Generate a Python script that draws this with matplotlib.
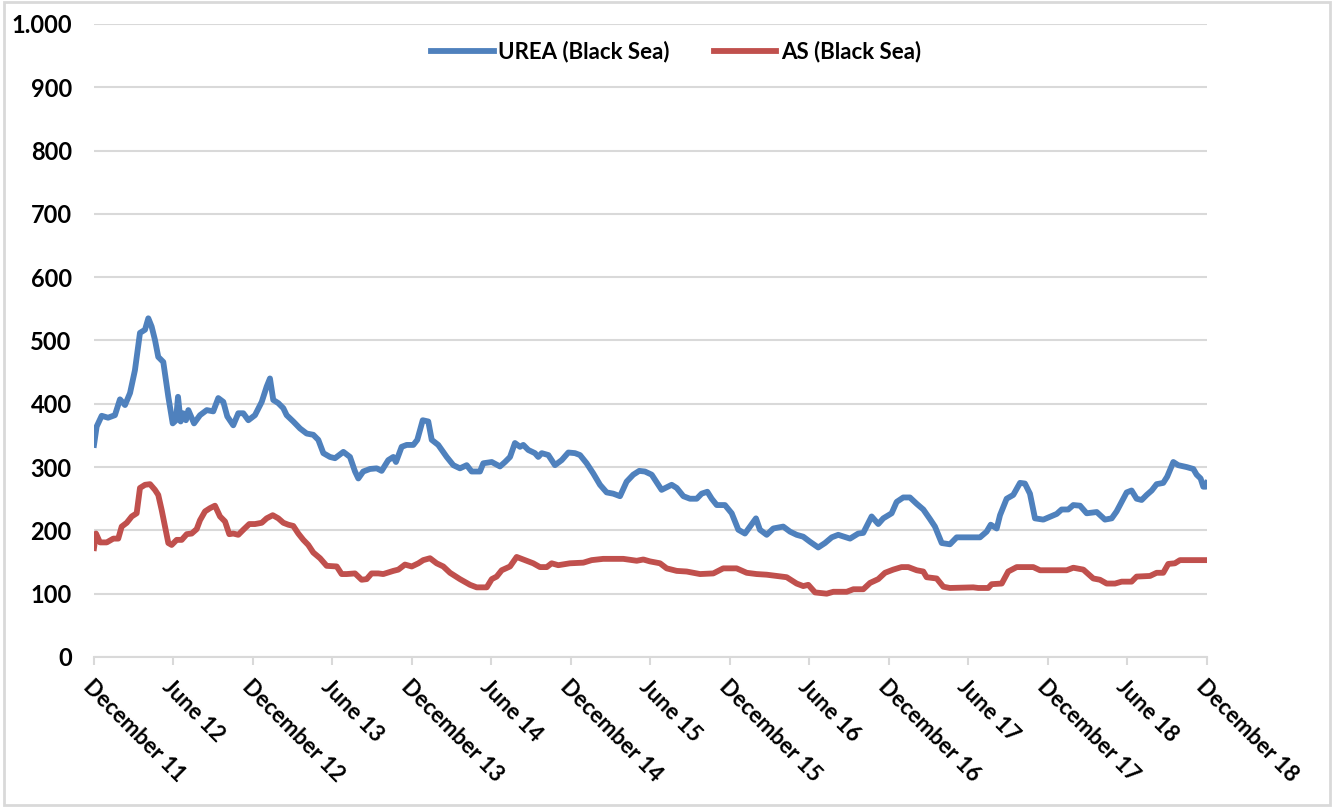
import matplotlib
matplotlib.use('Agg')
import matplotlib.pyplot as plt
from matplotlib.ticker import FuncFormatter, MultipleLocator
from matplotlib.patches import Rectangle

# months since December 2011
urea_x = [0, 0.2, 0.58, 1.06, 1.58, 1.96, 2.34, 2.72, 3.09, 3.47, 3.85, 4.10, 4.35, 4.60, 4.85,
          5.23, 5.61, 5.94, 6.19, 6.34, 6.54, 6.74, 6.94, 7.12, 7.55, 8.0, 8.51, 9.0, 9.38, 9.76,
          10.06, 10.51, 10.89, 11.27, 11.65, 12.15, 12.66, 13.03, 13.28, 13.53, 13.91, 14.29,
          14.54, 15.04, 15.55, 16.05, 16.55, 16.93, 17.31, 17.81, 18.19, 18.82, 19.32, 19.70,
          19.95, 20.32, 20.83, 21.34, 21.71, 22.21, 22.59, 22.79, 23.22, 23.60, 24.10, 24.40,
          24.81, 25.23, 25.49, 25.98, 26.62, 27.12, 27.62, 28.13, 28.50, 29.13, 29.38, 30.02,
          30.64, 31.02, 31.40, 31.77, 32.15, 32.40, 32.78, 33.28, 33.53, 33.79, 34.29, 34.79,
          35.30, 35.80, 36.30, 36.68, 37.18, 37.68, 38.19, 38.69, 39.19, 39.70, 40.20, 40.70,
          41.15, 41.58, 42.09, 42.34, 42.84, 43.60, 43.98, 44.48, 44.98, 45.49, 45.86, 46.29,
          46.62, 47.00, 47.62, 48.13, 48.63, 49.13, 49.51, 49.96, 50.26, 50.77, 51.27, 52.02,
          52.53, 53.03, 53.53, 54.04, 54.66, 55.17, 55.68, 56.17, 57.06, 57.68, 58.06, 58.69,
          59.19, 59.57, 60.20, 60.58, 61.08, 61.58, 62.09, 62.59, 63.09, 63.47, 63.98, 64.60,
          65.11, 66.87, 67.37, 67.68, 68.13, 68.38, 68.88, 69.38, 69.89, 70.26, 70.64, 71.02,
          71.65, 72.66, 73.03, 73.53, 73.91, 74.42, 74.92, 75.68, 76.30, 76.81, 77.18, 77.94,
          78.31, 78.69, 79.07, 79.45, 79.83, 80.20, 80.70, 81.0, 81.46, 81.83, 82.47, 82.97,
          83.22, 83.52, 83.72, 83.92, 84.0]
urea = [335, 364, 381, 378, 382, 407, 398, 417, 453, 512, 517, 535, 522, 501, 474,
        466, 411, 369, 374, 411, 372, 385, 374, 390, 369, 382, 390, 388, 409, 403,
        380, 366, 385, 385, 374, 382, 403, 427, 440, 406, 401, 393,
        382, 372, 361, 353, 351, 343, 322, 316, 314, 324, 316, 293,
        282, 293, 297, 298, 294, 311, 316, 308, 332, 335, 335, 343,
        374, 372, 343, 335, 316, 303, 298, 303, 293, 293, 306, 308,
        301, 308, 316, 338, 332, 335, 327, 322, 316, 322, 319, 303,
        311, 323, 322, 319, 306, 290, 272, 260, 258, 254, 277, 288,
        294, 293, 288, 280, 264, 272, 267, 254, 250, 250, 258, 261,
        250, 240, 240, 227, 201, 195, 206, 219, 201, 193, 203, 206,
        198, 193, 190, 182, 173, 180, 189, 193, 187, 195, 196, 222,
        210, 219, 227, 245, 252, 252, 242, 233, 218, 206, 180, 178,
        189, 189, 198, 209, 203, 224, 250, 256, 275, 274, 258, 219,
        217, 226, 233, 233, 240, 239, 227, 229, 217, 219, 230, 260,
        263, 250, 248, 256, 263, 273, 275, 285, 308, 303, 300, 297,
        288, 282, 269, 269, 275]

as_x = [0, 0.15, 0.45, 0.96, 1.46, 1.83, 2.09, 2.47, 2.85, 3.22, 3.47, 3.85, 4.23, 4.60, 4.85,
        5.11, 5.36, 5.61, 5.86, 6.24, 6.62, 7.0, 7.37, 7.75, 8.0, 8.38, 8.75, 9.13, 9.51, 9.89,
        10.21, 10.51, 10.89, 11.27, 11.72, 12.15, 12.66, 13.03, 13.49, 13.91, 14.29, 14.66,
        15.04, 15.42, 15.80, 16.17, 16.55, 17.06, 17.56, 18.32, 18.69, 19.07, 19.70, 20.20,
        20.58, 20.95, 21.46, 21.83, 22.59, 22.97, 23.47, 23.98, 24.48, 24.85, 25.36, 25.86,
        26.36, 26.87, 27.62, 28.38, 28.88, 29.64, 30.02, 30.39, 30.77, 31.40, 31.90, 32.53,
        33.15, 33.66, 34.17, 34.54, 35.04, 35.92, 36.93, 37.56, 38.43, 39.95, 40.96, 41.46,
        41.96, 42.72, 43.22, 43.98, 44.73, 45.74, 46.74, 47.49, 48.50, 49.26, 50.01, 50.77,
        51.52, 52.28, 53.03, 53.53, 53.91, 54.42, 55.30, 55.80, 56.81, 57.31, 58.06, 58.57,
        59.19, 59.70, 60.32, 60.95, 61.46, 62.09, 62.59, 62.84, 63.60, 64.10, 64.60, 66.36,
        66.74, 67.49, 67.75, 68.51, 69.00, 69.64, 70.89, 71.40, 73.41, 73.91, 74.67, 75.42,
        75.92, 76.43, 77.06, 77.56, 78.31, 78.69, 79.70, 80.20, 80.70, 81.08, 81.58, 81.96, 84.0]
as_bs = [172, 195, 181, 181, 187, 187, 206, 212, 222, 227, 267, 272, 273, 264, 256,
         232, 206, 180, 177, 185, 185, 194, 195, 202, 216, 230, 235, 239, 222, 214,
         194, 195, 193, 201, 210, 210, 212, 219, 224, 219, 212, 209,
         207, 195, 185, 177, 165, 156, 144, 143, 131, 131, 132, 122,
         123, 132, 132, 131, 136, 138, 146, 143, 148, 153, 156, 148,
         143, 133, 123, 114, 110, 110, 123, 127, 137, 143, 158, 153,
         148, 142, 142, 148, 145, 148, 149, 153, 155, 155, 152, 154,
         151, 148, 140, 136, 135, 131, 132, 140, 140, 133, 131, 130,
         128, 126, 116, 112, 114, 102, 100, 103, 103, 107, 107, 117,
         123, 133, 138, 142, 142, 137, 135, 126, 124, 111, 109, 110,
         109, 109, 115, 116, 135, 142, 142, 137, 137, 141, 138, 124,
         122, 116, 116, 119, 119, 127, 128, 133, 133, 147, 148, 153, 153]

tick_pos = list(range(0, 85, 6))
tick_labels = ['December 11', 'June 12', 'December 12', 'June 13', 'December 13', 'June 14',
               'December 14', 'June 15', 'December 15', 'June 16', 'December 16', 'June 17',
               'December 17', 'June 18', 'December 18']

plt.rcParams['font.family'] = ['Lato', 'DejaVu Sans']
plt.rcParams['font.weight'] = 'bold'

fig = plt.figure(figsize=(13.39, 8.07), dpi=100)
ax = fig.add_axes([0.0702, 0.1859, 0.8312, 0.7844])

ax.plot(urea_x, urea, color='#4F81BD', lw=4.2, label='UREA (Black Sea)', solid_joinstyle='round')
ax.plot(as_x, as_bs, color='#C0504D', lw=4.2, label='AS (Black Sea)', solid_joinstyle='round')

ax.set_xlim(0, 84)
ax.set_ylim(0, 1000)
ax.yaxis.set_major_locator(MultipleLocator(100))
ax.yaxis.set_major_formatter(FuncFormatter(lambda v, p: f'{int(v):,}'.replace(',', '.')))
ax.grid(axis='y', color='#d9d9d9', lw=1.5)
ax.set_axisbelow(True)
for s in ['top', 'right', 'left']:
    ax.spines[s].set_visible(False)
ax.spines['bottom'].set_color('#d9d9d9')
ax.spines['bottom'].set_linewidth(1.5)

ax.set_xticks(tick_pos)
ax.set_xticklabels(tick_labels, rotation=-45, ha='left', va='top', rotation_mode='anchor')
ax.tick_params(axis='x', length=6, width=1.5, color='#d9d9d9', labelsize=16, pad=8)
ax.tick_params(axis='y', length=0, labelsize=17, pad=16)

ax.legend(loc='center', bbox_to_anchor=(0.523, 0.956), ncol=2, frameon=False,
          fontsize=16, handlelength=2.8, handletextpad=0.2, columnspacing=2.0)

fig.patches.append(Rectangle((0.003, 0.003), 0.99, 0.994, transform=fig.transFigure,
                             fill=False, edgecolor='#d9d9d9', lw=2))

fig.savefig('out.png', dpi=100)
